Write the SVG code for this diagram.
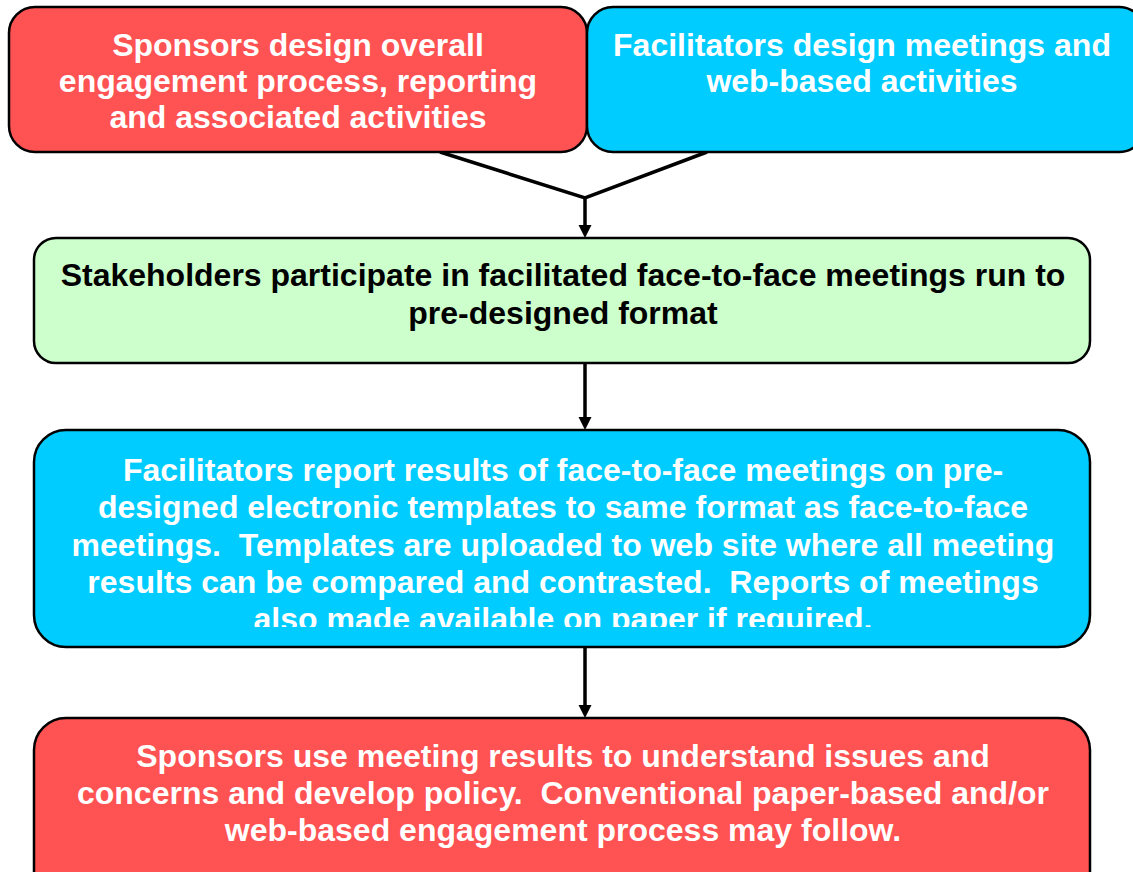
<svg xmlns="http://www.w3.org/2000/svg" width="1133" height="872" viewBox="0 0 1133 872">
  <defs>
    <style>
      .box { stroke: #000; stroke-width: 2.5; }
      .red { fill: #FF5252; }
      .blue { fill: #00CCFF; }
      .green { fill: #CCFFCC; }
      .t { font-family: "Liberation Sans", Arial, sans-serif; font-weight: bold; font-size: 32px; text-anchor: middle; white-space: pre; }
      .w { fill: #FFFFFF; }
      .k { fill: #000000; }
      .conn { stroke: #000; stroke-width: 3.5; fill: none; }
    </style>
    <clipPath id="clipBlue">
      <rect x="34" y="430" width="1056" height="197"/>
    </clipPath>
  </defs>
  <rect width="1133" height="872" fill="#FFFFFF"/>

  <g id="connectors">
    <polyline class="conn" points="440,152 585,198 707,152"/>
    <line class="conn" x1="585" y1="198" x2="585" y2="225"/>
    <path d="M578.5,225 L591.5,225 L585,238 Z" fill="#000"/>
    <line class="conn" x1="585" y1="359" x2="585" y2="417"/>
    <path d="M578.5,417 L591.5,417 L585,430 Z" fill="#000"/>
    <line class="conn" x1="585" y1="647" x2="585" y2="705"/>
    <path d="M578.5,705 L591.5,705 L585,718 Z" fill="#000"/>
  </g>

  <g id="node-sponsors-design">
    <rect class="box red" x="9" y="7" width="578" height="145" rx="26" ry="26"/>
    <text class="t w" x="298" y="56">Sponsors design overall</text>
    <text class="t w" x="298" y="92">engagement process, reporting</text>
    <text class="t w" x="298" y="128">and associated activities</text>
  </g>

  <g id="node-facilitators-design">
    <rect class="box blue" x="587" y="7" width="558" height="145" rx="26" ry="26"/>
    <text class="t w" x="862" y="56">Facilitators design meetings and</text>
    <text class="t w" x="862" y="92">web-based activities</text>
  </g>

  <g id="node-stakeholders">
    <rect class="box green" x="34" y="238" width="1056" height="125" rx="22" ry="22"/>
    <text class="t k" x="563" y="286">Stakeholders participate in facilitated face-to-face meetings run to</text>
    <text class="t k" x="563" y="324">pre-designed format</text>
  </g>

  <g id="node-facilitators-report">
    <rect class="box blue" x="34" y="430" width="1056" height="217" rx="32" ry="32"/>
    <g clip-path="url(#clipBlue)">
      <text class="t w" x="563" y="481">Facilitators report results of face-to-face meetings on pre-</text>
      <text class="t w" x="563" y="518">designed electronic templates to same format as face-to-face</text>
      <text class="t w" x="563" y="556" xml:space="preserve">meetings.  Templates are uploaded to web site where all meeting</text>
      <text class="t w" x="563" y="593" xml:space="preserve">results can be compared and contrasted.  Reports of meetings</text>
      <text class="t w" x="563" y="630">also made available on paper if required.</text>
    </g>
  </g>

  <g id="node-sponsors-use">
    <rect class="box red" x="34" y="718" width="1056" height="200" rx="32" ry="32"/>
    <text class="t w" x="563" y="767">Sponsors use meeting results to understand issues and</text>
    <text class="t w" x="563" y="804" xml:space="preserve">concerns and develop policy.  Conventional paper-based and/or</text>
    <text class="t w" x="563" y="841">web-based engagement process may follow.</text>
  </g>
</svg>
